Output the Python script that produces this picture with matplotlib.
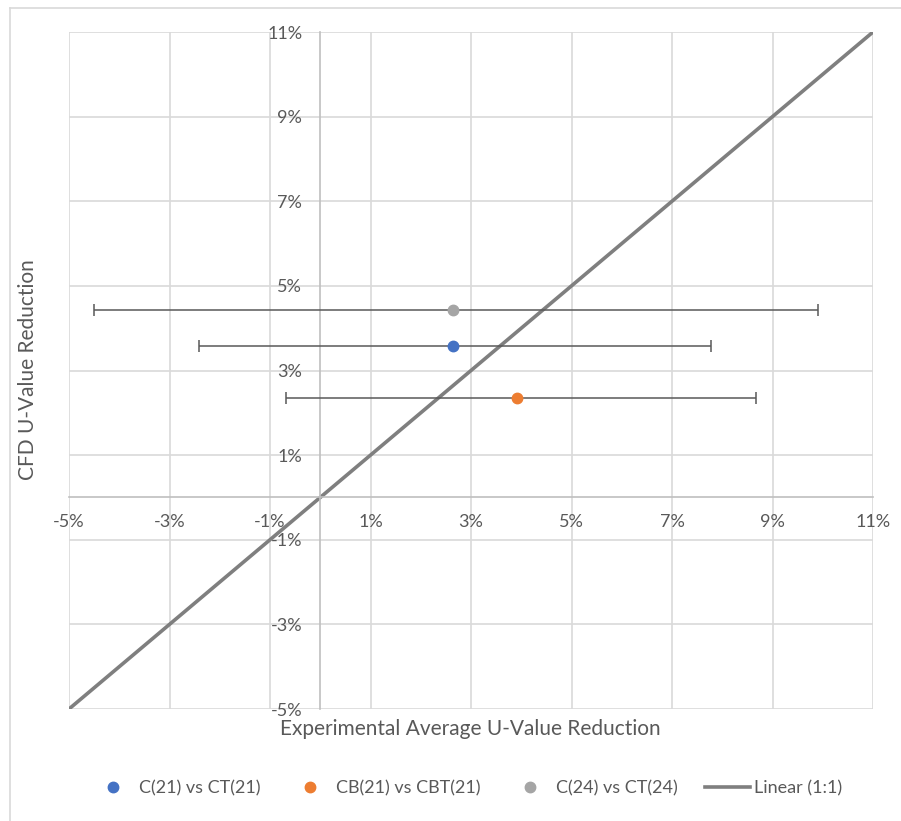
import matplotlib.pyplot as plt
from matplotlib.lines import Line2D
from matplotlib.ticker import FuncFormatter, MultipleLocator

plt.rcParams['font.family'] = ['Lato', 'DejaVu Sans']

# experimental vs CFD reduction (percent) with experimental spread
series_names = ['C(21) vs CT(21)', 'CB(21) vs CBT(21)', 'C(24) vs CT(24)']
series_colors = ['#4472C4', '#ED7D31', '#A5A5A5']
exp_reduction = [2.65, 3.92, 2.65]
cfd_reduction = [3.57, 2.34, 4.42]
err_low = [5.06, 4.60, 7.15]
err_high = [5.13, 4.75, 7.25]

one_to_one = [-5, 11]

W, H = 901, 821
fig = plt.figure(figsize=(W / 100, H / 100), dpi=100)
ax = fig.add_axes([69 / W, (H - 709) / H, (873 - 69) / W, (709 - 32) / H])

text_col = '#595959'
grid_col = '#D9D9D9'

ax.plot(one_to_one, one_to_one, color='#7F7F7F', lw=2.6, zorder=2,
        solid_capstyle='butt')

for i in range(len(series_names)):
    ax.errorbar(exp_reduction[i], cfd_reduction[i],
                xerr=[[err_low[i]], [err_high[i]]], fmt='none',
                ecolor=text_col, elinewidth=1.1, capsize=4, capthick=1.1,
                zorder=3)
    ax.plot(exp_reduction[i], cfd_reduction[i], 'o', ms=7.5,
            color=series_colors[i], zorder=4)

ax.set_xlim(-5, 11)
ax.set_ylim(-5, 11)
ax.xaxis.set_major_locator(MultipleLocator(2, offset=1))
ax.yaxis.set_major_locator(MultipleLocator(2, offset=1))
pct = FuncFormatter(lambda v, _: '{:.0f}%'.format(v))
ax.xaxis.set_major_formatter(pct)
ax.yaxis.set_major_formatter(pct)

for side in ['top', 'right']:
    ax.spines[side].set_visible(False)
ax.spines['bottom'].set_position(('data', 0))
ax.spines['left'].set_position(('data', 0))
ax.spines['bottom'].set_color('#BFBFBF')
ax.spines['left'].set_color('#BFBFBF')
ax.spines['bottom'].set_linewidth(1.2)
ax.spines['left'].set_linewidth(1.2)

ax.grid(True, color=grid_col, lw=1.2, zorder=0)
ax.set_axisbelow(True)
ax.tick_params(length=0, labelsize=13, labelcolor=text_col)
ax.tick_params(axis='x', pad=12)
ax.tick_params(axis='y', pad=13)
for lbl in ax.get_xticklabels() + ax.get_yticklabels():
    lbl.set_clip_on(False)

fig.text(28 / W, 1 - 370 / H, 'CFD U-Value Reduction', rotation=90,
         ha='center', va='center', fontsize=15, color=text_col)
fig.text(470 / W, 1 - 729 / H, 'Experimental Average U-Value Reduction',
         ha='center', va='center', fontsize=15, color=text_col)

handles = [Line2D([], [], ls='none', marker='o', ms=7.5, color=c)
           for c in series_colors]
handles.append(Line2D([], [], color='#7F7F7F', lw=2.6))
fig.legend(handles, series_names + ['Linear (1:1)'], loc='center',
           bbox_to_anchor=(466 / W, 1 - 788 / H), ncol=4, frameon=False,
           fontsize=13, labelcolor=text_col, handlelength=2.5,
           handletextpad=0.2, columnspacing=1.5)

# outer chart border
fig.add_artist(Line2D([10 / W, 10 / W], [0, 1 - 8 / H], color='#D9D9D9',
                      lw=1.2, transform=fig.transFigure))
fig.add_artist(Line2D([10 / W, 1], [1 - 8 / H, 1 - 8 / H], color='#D9D9D9',
                      lw=1.2, transform=fig.transFigure))

fig.savefig('out.png', dpi=100, facecolor='white')
